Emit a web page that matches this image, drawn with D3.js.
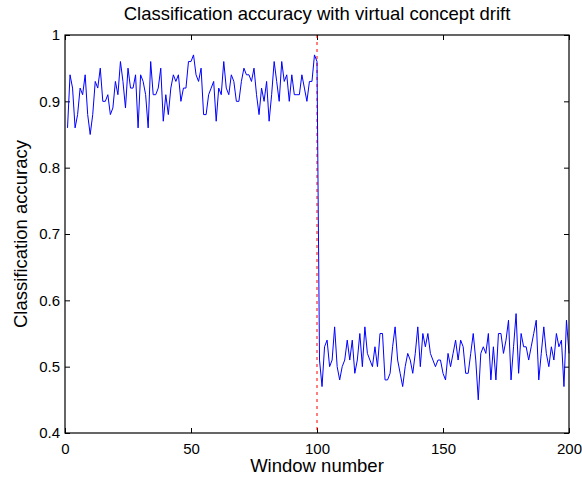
<!DOCTYPE html>
<html>
<head>
<meta charset="utf-8">
<script src="https://cdn.jsdelivr.net/npm/d3@7"></script>
<style>
  body { margin: 0; background: #fff; }
  svg text { font-family: "Liberation Sans", Arial, Helvetica, sans-serif; fill: #000; }
</style>
</head>
<body>
<div id="chart"></div>
<script>
// accuracy per window, before the drift (windows 1..100)
var accBefore = [
  0.86, 0.94, 0.92, 0.86, 0.88, 0.92, 0.91, 0.94, 0.88, 0.85,
  0.88, 0.93, 0.92, 0.95, 0.90, 0.90, 0.91, 0.88, 0.89, 0.93,
  0.91, 0.96, 0.93, 0.89, 0.95, 0.92, 0.92, 0.94, 0.86, 0.94,
  0.93, 0.91, 0.86, 0.96, 0.91, 0.91, 0.92, 0.95, 0.87, 0.91,
  0.88, 0.92, 0.94, 0.93, 0.94, 0.90, 0.92, 0.92, 0.96, 0.96,
  0.97, 0.94, 0.93, 0.95, 0.88, 0.88, 0.91, 0.92, 0.93, 0.87,
  0.92, 0.91, 0.96, 0.92, 0.91, 0.94, 0.93, 0.90, 0.90, 0.93,
  0.95, 0.94, 0.94, 0.93, 0.95, 0.91, 0.88, 0.92, 0.90, 0.93,
  0.87, 0.91, 0.96, 0.93, 0.90, 0.96, 0.93, 0.94, 0.90, 0.94,
  0.91, 0.91, 0.91, 0.94, 0.92, 0.90, 0.93, 0.93, 0.97, 0.96
];
// accuracy per window, after the drift (windows 101..200)
var accAfter = [
  0.51, 0.47, 0.53, 0.54, 0.50, 0.51, 0.56, 0.50, 0.48, 0.50,
  0.51, 0.54, 0.51, 0.54, 0.49, 0.51, 0.55, 0.50, 0.56, 0.52,
  0.51, 0.50, 0.53, 0.50, 0.55, 0.55, 0.48, 0.48, 0.49, 0.53,
  0.56, 0.51, 0.49, 0.47, 0.50, 0.52, 0.51, 0.49, 0.52, 0.56,
  0.50, 0.55, 0.53, 0.55, 0.52, 0.51, 0.50, 0.51, 0.51, 0.49,
  0.48, 0.52, 0.50, 0.52, 0.54, 0.51, 0.54, 0.53, 0.49, 0.49,
  0.52, 0.55, 0.51, 0.45, 0.52, 0.53, 0.52, 0.55, 0.48, 0.53,
  0.48, 0.55, 0.55, 0.52, 0.54, 0.57, 0.48, 0.53, 0.58, 0.49,
  0.55, 0.53, 0.53, 0.51, 0.53, 0.55, 0.57, 0.48, 0.52, 0.56,
  0.52, 0.50, 0.53, 0.51, 0.55, 0.53, 0.54, 0.47, 0.57, 0.52
];
var driftAt = 100;
var xTicks = [0, 50, 100, 150, 200];
var yTicks = [0.4, 0.5, 0.6, 0.7, 0.8, 0.9, 1];

var width = 582, height = 478;
var margin = {top: 35, right: 13, bottom: 45, left: 65};
var innerW = width - margin.left - margin.right,
    innerH = height - margin.top - margin.bottom;

var acc = accBefore.concat(accAfter);
var data = acc.map(function (v, i) { return {w: i + 1, a: v}; });

var svg = d3.select("#chart").append("svg")
  .attr("width", width)
  .attr("height", height);

var g = svg.append("g")
  .attr("transform", "translate(" + margin.left + "," + margin.top + ")");

var x = d3.scaleLinear().domain([0, 200]).range([0, innerW]);
var y = d3.scaleLinear().domain([0.4, 1]).range([innerH, 0]);

// matlab style axes: ticks pointing inward, on all four sides
var tickLen = 5;
var xAxis = d3.axisBottom(x).tickValues(xTicks).tickSizeInner(-tickLen).tickSizeOuter(0).tickPadding(10);
var yAxis = d3.axisLeft(y).tickValues(yTicks).tickFormat(d3.format("")).tickSizeInner(-tickLen).tickSizeOuter(0).tickPadding(5);

g.append("g").attr("class", "x axis")
  .attr("transform", "translate(0," + innerH + ")")
  .call(xAxis);
g.append("g").attr("class", "y axis").call(yAxis);

g.append("g")
  .call(d3.axisTop(x).tickValues(xTicks).tickSizeInner(-tickLen).tickSizeOuter(0).tickFormat(""));
g.append("g")
  .attr("transform", "translate(" + innerW + ",0)")
  .call(d3.axisRight(y).tickValues(yTicks).tickSizeInner(-tickLen).tickSizeOuter(0).tickFormat(""));

g.selectAll(".domain").remove();
g.selectAll(".tick line").attr("stroke", "#000");
g.selectAll(".tick text").style("font-size", "15px");

// drift marker
g.append("line")
  .attr("x1", x(driftAt)).attr("x2", x(driftAt))
  .attr("y1", 0).attr("y2", innerH)
  .attr("stroke", "#ff0000")
  .attr("stroke-width", 1)
  .attr("stroke-dasharray", "3,4");

var line = d3.line()
  .x(function (d) { return x(d.w); })
  .y(function (d) { return y(d.a); });

g.append("path")
  .datum(data)
  .attr("fill", "none")
  .attr("stroke", "#0000ff")
  .attr("stroke-width", 1)
  .attr("d", line);

// box
g.append("rect")
  .attr("width", innerW).attr("height", innerH)
  .attr("fill", "none").attr("stroke", "#000").attr("stroke-width", 1.2);

svg.append("text")
  .attr("x", margin.left + innerW / 2).attr("y", 20)
  .attr("text-anchor", "middle")
  .style("font-size", "18.5px")
  .text("Classification accuracy with virtual concept drift");

svg.append("text")
  .attr("x", margin.left + innerW / 2).attr("y", 472)
  .attr("text-anchor", "middle")
  .style("font-size", "18.5px")
  .text("Window number");

svg.append("text")
  .attr("transform", "translate(27," + (margin.top + innerH / 2) + ") rotate(-90)")
  .attr("text-anchor", "middle")
  .style("font-size", "18.5px")
  .text("Classification accuracy");
</script>
</body>
</html>
